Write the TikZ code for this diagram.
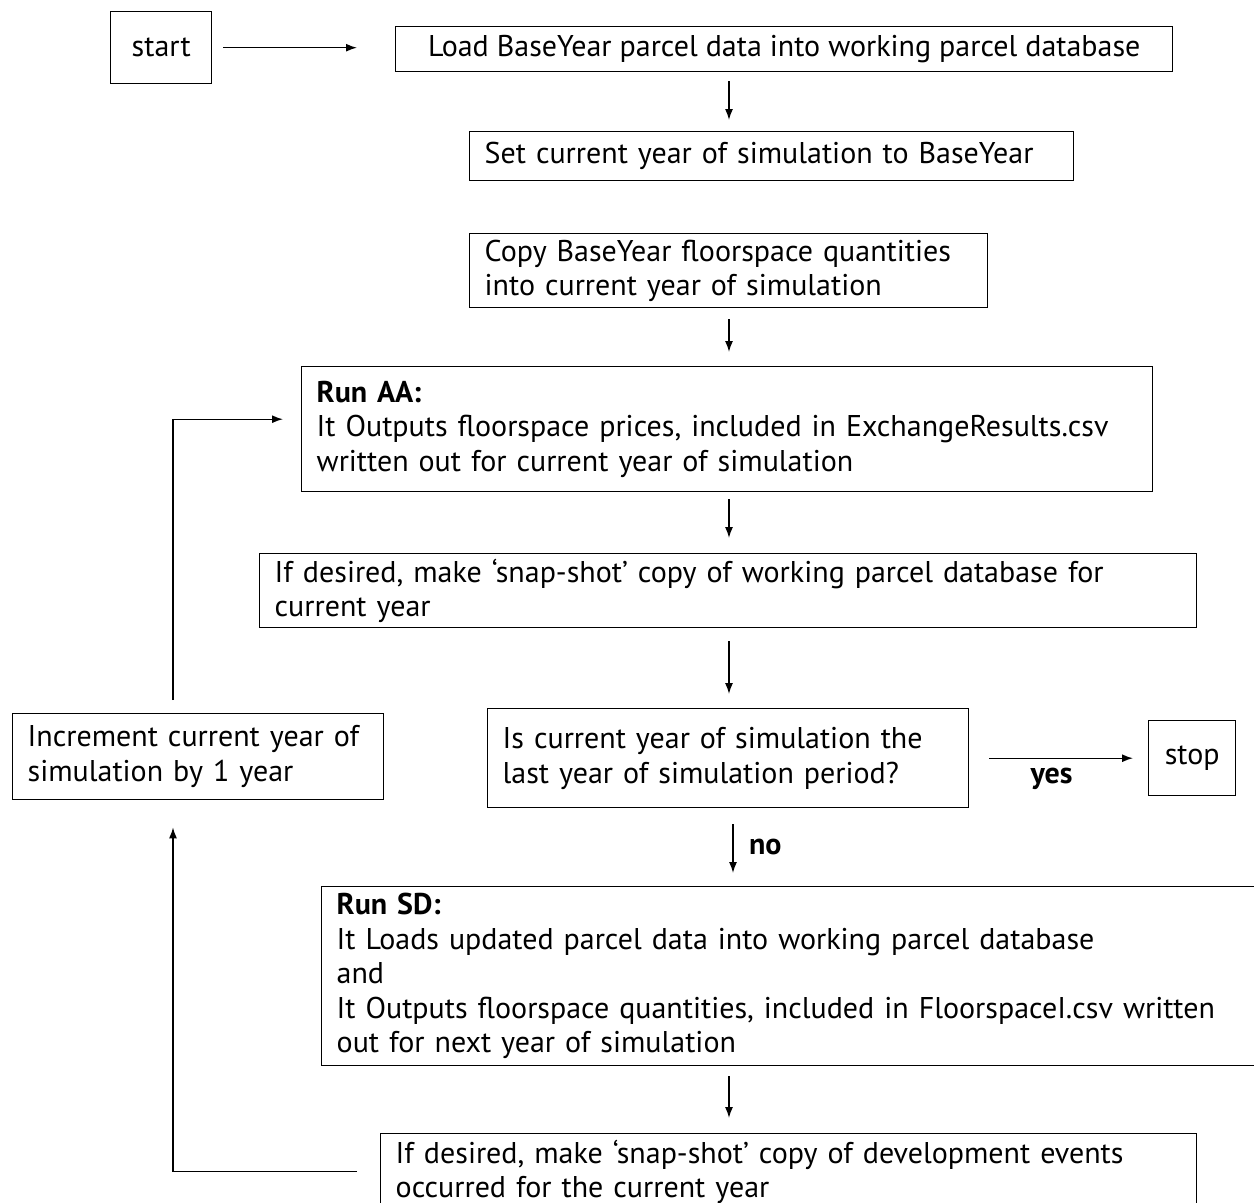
\documentclass[tikz,border=0pt]{standalone}
\usepackage{fontspec}
\setmainfont{PT Sans}
\usepackage{tikz}
\usetikzlibrary{positioning,arrows.meta}

\begin{document}
\begin{tikzpicture}[x = 1pt, y = -1pt, > = {Latex[length=11pt,width=8pt]}, line width = 1.4pt,
box/.style={ rectangle, draw, anchor = north west, inner xsep = 15pt, inner ysep = 0pt, align = left, font = \fontsize{30}{34.5}\selectfont },
tag/.style={ font = \fontsize{30}{34.5}\selectfont\bfseries }]

\useasboundingbox (0,0) rectangle (1254,1203);
\clip (0,0) rectangle (1254,1203);

%columns the arrows run along
\coordinate (col) at (729,0);
\coordinate (loopx) at (173,0);

\node (start) [box, align = center, inner xsep = 0pt, minimum width = 101pt, minimum height = 72pt] at (110,11) {start};
\node (load) [box, align = center, inner xsep = 0pt, minimum width = 777pt, minimum height = 45pt] at (395,26) {Load BaseYear parcel data into working parcel database};
\node (set) [box, text width = 574pt, minimum height = 49pt] at (469,131) {Set current year of simulation to BaseYear};
\node (copy) [box, text width = 488pt, minimum height = 74pt] at (469,233) {Copy BaseYear floorspace quantities\\into current year of simulation};
\node (runaa) [box, text width = 821pt, minimum height = 125pt] at (301,366) {\textbf{Run AA:}\\It Outputs floorspace prices, included in ExchangeResults.csv\\written out for current year of simulation};
\node (snapdb) [box, text width = 907pt, minimum height = 74pt] at (259,553) {If desired, make ‘snap-shot’ copy of working parcel database for\\current year};
\node (last) [box, text width = 451pt, minimum height = 99pt] at (487,708) {Is current year of simulation the\\last year of simulation period?};
\node (stop) [box, align = center, inner xsep = 0pt, minimum width = 87pt, minimum height = 75pt] at (1148,720) {stop};
\node (incr) [box, text width = 341pt, minimum height = 86pt] at (12,713) {Increment current year of\\simulation by 1 year};
\node (runsd) [box, text width = 919pt, minimum height = 179pt] at (321,886) {\textbf{Run SD:}\\It Loads updated parcel data into working parcel database\\and\\It Outputs floorspace quantities, included in FloorspaceI.csv written\\out for next year of simulation};
\node (snapev) [box, text width = 786pt, minimum height = 76pt] at (380,1133) {If desired, make ‘snap-shot’ copy of development events\\occurred for the current year};

%main line
\draw [->, shorten <= 11pt, shorten >= 38pt] (start.east) -- (load.west |- start.east);
\draw [->, shorten <= 9pt, shorten >= 11pt] (load.south -| col) -- (set.north -| col);
\draw [->, shorten <= 11pt, shorten >= 14pt] (copy.south -| col) -- (runaa.north -| col);
\draw [->, shorten <= 7pt, shorten >= 15pt] (runaa.south -| col) -- (snapdb.north -| col);
\draw [->, shorten <= 13pt, shorten >= 14pt] (snapdb.south -| col) -- (last.north -| col);
\draw [->, shorten <= 20pt, shorten >= 15pt] (last.east) -- (stop.west) node [tag, below = 6pt, pos = 0.46] (yes) {yes};
\draw [->, shorten <= 16pt, shorten >= 13pt] ([xshift=4pt]last.south -| col) -- ([xshift=4pt]runsd.north -| col) node [tag, right = 12pt, pos = 0.5] (no) {no};
\draw [->, shorten <= 10pt, shorten >= 15pt] (runsd.south -| col) -- (snapev.north -| col);

%loop back
\draw [->, shorten <= 23pt, shorten >= 27pt] (snapev.west) -| (incr.south -| loopx);
\draw [->, shorten <= 13pt, shorten >= 18pt] (incr.north -| loopx) |- ([yshift=10pt]runaa.west);

\end{tikzpicture}
\end{document}
